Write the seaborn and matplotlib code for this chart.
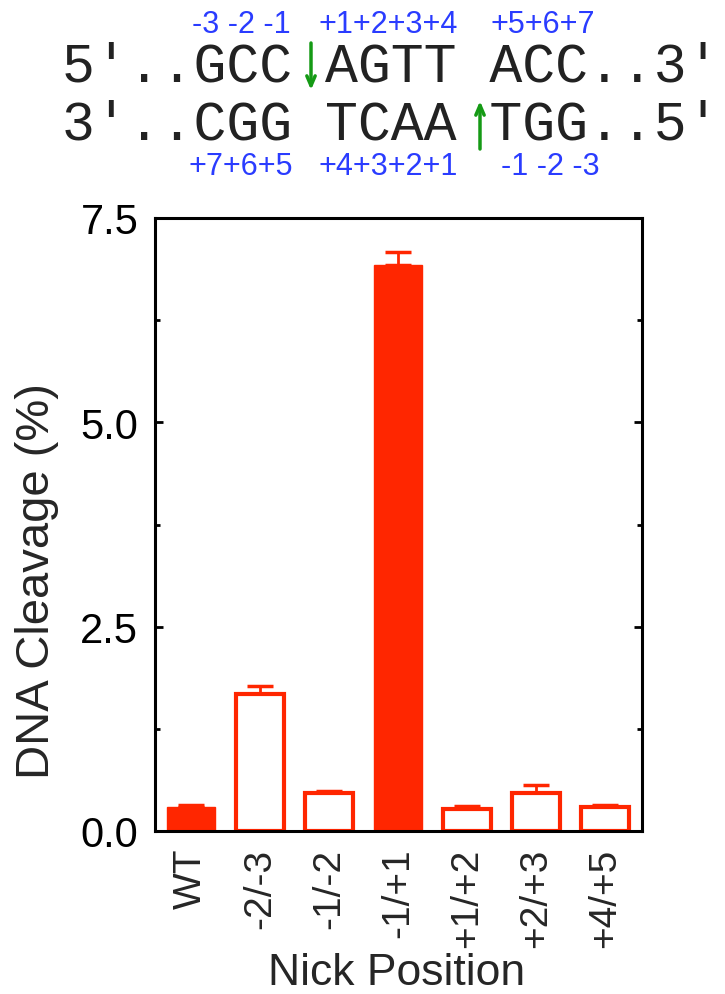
import matplotlib
matplotlib.use("Agg")
import matplotlib.pyplot as plt
import seaborn as sns
import pandas as pd
import numpy as np
from matplotlib.ticker import MultipleLocator, FormatStrFormatter

# ---- data ----
positions = ["WT", "-2/-3", "-1/-2", "-1/+1", "+1/+2", "+2/+3", "+4/+5"]
cleavage = [0.29, 1.68, 0.46, 6.92, 0.27, 0.46, 0.29]
errors = [0.03, 0.09, 0.03, 0.16, 0.04, 0.10, 0.03]
filled = [True, False, False, True, False, False, False]

top_strand = "5'..GCC AGTT ACC..3'"
bottom_strand = "3'..CGG TCAA TGG..5'"
top_numbers = ["-3 -2 -1", "+1+2+3+4", "+5+6+7"]
bottom_numbers = ["+7+6+5", "+4+3+2+1", "-1 -2 -3"]

RED = "#ff2600"
BLUE = "#2a3cff"
GREEN = "#159a15"

sns.set_style("ticks")
plt.rcParams["font.family"] = ["Liberation Sans", "DejaVu Sans"]

W, H = 725, 995
fig = plt.figure(figsize=(W / 100, H / 100), dpi=100)
ax = fig.add_axes([155 / W, 1 - 832 / H, (642 - 155) / W, (832 - 219) / H])

df = pd.DataFrame({"pos": positions, "val": cleavage})
sns.barplot(data=df, x="pos", y="val", order=positions, color=RED,
            saturation=1, width=0.7, errorbar=None, ax=ax, zorder=3)
for patch, f in zip(ax.patches, filled):
    if f:
        patch.set_facecolor(RED)
        patch.set_edgecolor(RED)
        patch.set_linewidth(1)
    else:
        patch.set_facecolor("white")
        patch.set_edgecolor(RED)
        patch.set_linewidth(3)

ax.errorbar(np.arange(len(positions)), cleavage,
            yerr=[np.zeros(len(errors)), errors], fmt="none",
            ecolor=RED, elinewidth=2, capsize=9.5, capthick=2.5, zorder=2)

ax.set_xlim(-0.52, 6.54)
ax.set_ylim(0, 7.5)
ax.yaxis.set_major_locator(MultipleLocator(2.5))
ax.yaxis.set_minor_locator(MultipleLocator(1.25))
ax.yaxis.set_major_formatter(FormatStrFormatter("%.1f"))

for s in ax.spines.values():
    s.set_visible(True)
    s.set_linewidth(2.2)
    s.set_color("black")
    s.set_zorder(5)

ax.tick_params(axis="y", which="both", direction="in", left=True, right=True,
               width=2, labelsize=30, pad=12, colors="black")
ax.tick_params(axis="y", which="major", length=6)
ax.tick_params(axis="y", which="minor", length=3.5)
ax.tick_params(axis="x", length=0, labelsize=28, pad=12, labelrotation=90)

ax.set_ylabel("DNA Cleavage (%)", fontsize=34)
ax.yaxis.set_label_coords(-0.197, 0.41)
ax.set_xlabel("Nick Position", fontsize=32, va="baseline")
ax.xaxis.set_label_coords(0.497, (832 - 985) / (832 - 219))

# ---- sequence header ----
mono = ["Liberation Mono", "DejaVu Sans Mono"]
fig.text(62 / W, 1 - 82 / H, top_strand, family=mono,
         fontsize=39.5, ha="left", va="baseline", color="#222222")
fig.text(62 / W, 1 - 139 / H, bottom_strand, family=mono,
         fontsize=39.5, ha="left", va="baseline", color="#222222")

for txt, x in zip(top_numbers, [192, 319, 491]):
    fig.text(x / W, 1 - 33 / H, txt, fontsize=22, color=BLUE, ha="left", va="baseline")
for txt, x in zip(bottom_numbers, [189, 319, 501]):
    fig.text(x / W, 1 - 175 / H, txt, fontsize=22, color=BLUE, ha="left", va="baseline")

ax.annotate("", xy=(311 / W, 1 - 91 / H), xytext=(311 / W, 1 - 44 / H),
            xycoords="figure fraction", textcoords="figure fraction",
            arrowprops=dict(arrowstyle="->,head_length=0.7,head_width=0.3",
                            color=GREEN, lw=2.5, shrinkA=0, shrinkB=0))
ax.annotate("", xy=(480 / W, 1 - 102 / H), xytext=(480 / W, 1 - 150 / H),
            xycoords="figure fraction", textcoords="figure fraction",
            arrowprops=dict(arrowstyle="->,head_length=0.7,head_width=0.3",
                            color=GREEN, lw=2.5, shrinkA=0, shrinkB=0))

fig.savefig("out.png", dpi=100)
